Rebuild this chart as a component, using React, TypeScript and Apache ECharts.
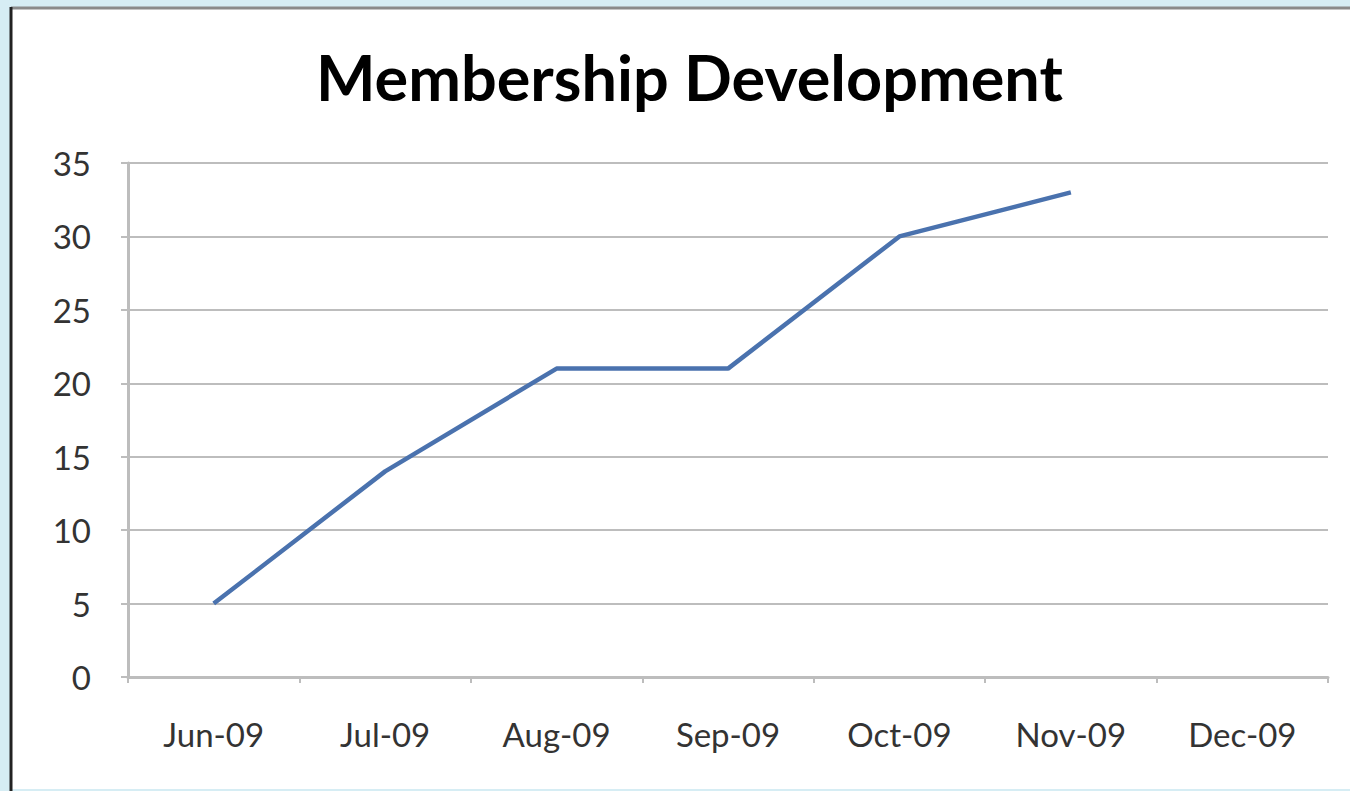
import React, { useEffect, useRef } from "react";
import * as echarts from "echarts";

const categories = ["Jun-09", "Jul-09", "Aug-09", "Sep-09", "Oct-09", "Nov-09", "Dec-09"];
const members: (number | null)[] = [5, 14, 21, 21, 30, 33, null];
const yTicks = { min: 0, max: 35, interval: 5 };
const titleText = "Membership Development";

export default function App() {
  const ref = useRef<HTMLDivElement>(null);
  useEffect(() => {
    document.body.style.margin = "0";
    const chart = echarts.init(ref.current!, null, { renderer: "svg" });
    chart.setOption({
      animation: false,
      backgroundColor: "#d6edf4",
      graphic: [
        { type: "rect", shape: { x: 11, y: 8, width: 1345, height: 781 }, style: { fill: "#ffffff" }, z: -10 },
        { type: "line", shape: { x1: 11, y1: 8, x2: 1350, y2: 8 }, style: { stroke: "#8a8a8a", lineWidth: 3 }, z: -9 },
        { type: "line", shape: { x1: 11, y1: 7, x2: 11, y2: 791 }, style: { stroke: "#222222", lineWidth: 3 }, z: -9 },
      ],
      title: {
        text: titleText,
        left: 311,
        top: 40,
        textStyle: { fontFamily: "Lato", fontWeight: "bold", fontSize: 63, color: "#000000" },
      },
      grid: { left: 128, right: 22, top: 163, bottom: 114 },
      xAxis: {
        type: "category",
        data: categories,
        boundaryGap: true,
        axisLine: { lineStyle: { color: "#bdbdbd", width: 3 } },
        axisTick: { show: true, length: 6, lineStyle: { color: "#bdbdbd", width: 2 } },
        axisLabel: { fontFamily: "Lato", fontSize: 33, color: "#333333", margin: 40 },
      },
      yAxis: {
        type: "value",
        min: yTicks.min,
        max: yTicks.max,
        interval: yTicks.interval,
        axisLine: { show: true, lineStyle: { color: "#bdbdbd", width: 3 } },
        axisTick: { show: true, length: 7, lineStyle: { color: "#bdbdbd", width: 2 } },
        splitLine: { lineStyle: { color: "#bdbdbd", width: 2 } },
        axisLabel: { fontFamily: "Lato", fontSize: 33, color: "#333333", margin: 37 },
      },
      series: [
        {
          type: "line",
          data: members,
          symbol: "none",
          lineStyle: { color: "#4a72ae", width: 4.5 },
        },
      ],
    });
    return () => chart.dispose();
  }, []);
  return <div ref={ref} style={{ width: 1350, height: 791 }} />;
}
